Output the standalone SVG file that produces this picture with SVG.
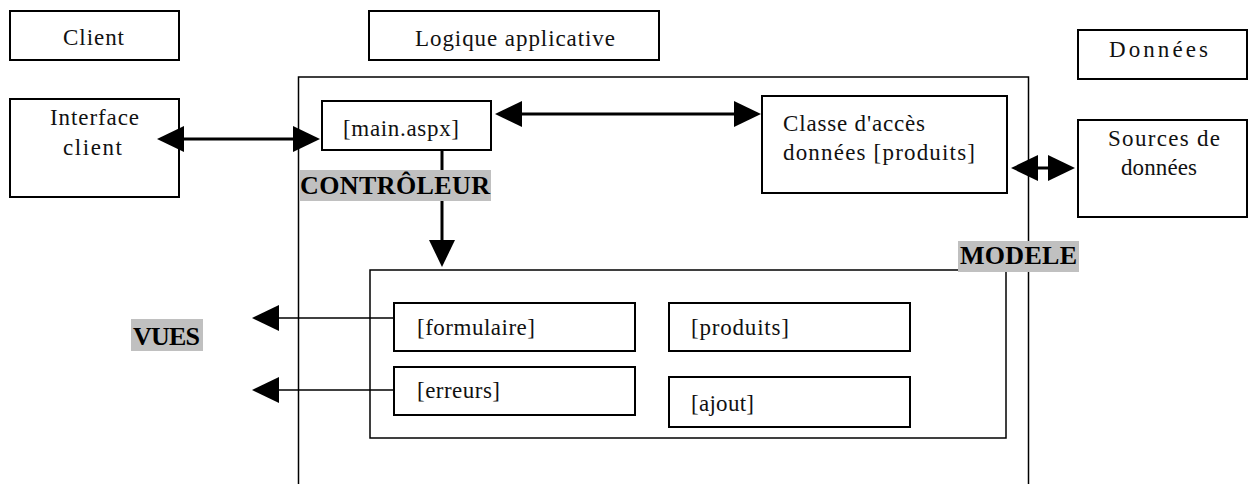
<svg xmlns="http://www.w3.org/2000/svg" width="1250" height="484" viewBox="0 0 1250 484">
<style>
.box{fill:#fff;stroke:#000;stroke-width:2}
.frame{fill:none;stroke:#000;stroke-width:1.5}
.t{font-family:"Liberation Serif",serif;font-size:23px;fill:#111}
.b{font-family:"Liberation Serif",serif;font-size:26px;font-weight:bold;fill:#000}
.bg{fill:#c0c0c0}
.c{fill:none;stroke:#000;stroke-width:3}
.c2{fill:none;stroke:#000;stroke-width:1.5}
</style>
<defs>
<marker id="ah" markerUnits="userSpaceOnUse" markerWidth="28" markerHeight="28" viewBox="0 0 28 28" refX="18" refY="13.5" orient="auto-start-reverse">
<path d="M0,0.5 L27,13.5 L0,26.5 z" fill="#000"/>
</marker>
</defs>
<g id="client-header"><rect class="box" x="10" y="11" width="169" height="49"/><text class="t" x="63" y="45" textLength="61">Client</text></g>
<g id="logique-header"><rect class="box" x="369" y="11" width="290" height="49"/><text class="t" x="415" y="46" textLength="200">Logique applicative</text></g>
<g id="donnees-header"><rect class="box" x="1078" y="30" width="169" height="49"/><text class="t" x="1109" y="57" textLength="99">Données</text></g>
<g id="logique-container"><rect class="frame" x="298.5" y="77" width="730" height="430"/></g>
<g id="interface-client"><rect class="box" x="10" y="99" width="169" height="98"/><text class="t" x="50" y="125" textLength="89">Interface</text><text class="t" x="63" y="155" textLength="59">client</text></g>
<g id="main-aspx"><rect class="box" x="322" y="101" width="169" height="49"/><text class="t" x="343" y="136" textLength="116">[main.aspx]</text></g>
<g id="classe-acces"><rect class="box" x="762" y="96" width="245" height="97"/><text class="t" x="783" y="131" textLength="142">Classe d'accès</text><text class="t" x="783" y="160" textLength="192">données [produits]</text></g>
<g id="sources"><rect class="box" x="1078" y="120" width="169" height="97"/><text class="t" x="1108" y="146" textLength="112">Sources de</text><text class="t" x="1121" y="175" textLength="76">données</text></g>
<g id="modele-box"><rect class="frame" x="370" y="270" width="636" height="168"/></g>
<g id="formulaire"><rect class="box" x="394" y="303" width="241" height="48"/><text class="t" x="417" y="335" textLength="118">[formulaire]</text></g>
<g id="erreurs"><rect class="box" x="394" y="367" width="241" height="48"/><text class="t" x="417" y="398" textLength="83">[erreurs]</text></g>
<g id="produits"><rect class="box" x="669" y="303" width="241" height="48"/><text class="t" x="691" y="335" textLength="98">[produits]</text></g>
<g id="ajout"><rect class="box" x="669" y="377" width="241" height="50"/><text class="t" x="691" y="411" textLength="63">[ajout]</text></g>
<g id="connectors">
<line class="c" x1="166" y1="139" x2="311" y2="139" marker-start="url(#ah)" marker-end="url(#ah)"/>
<line class="c" x1="504" y1="114" x2="752" y2="114" marker-start="url(#ah)" marker-end="url(#ah)"/>
<line class="c" x1="1020" y1="168" x2="1066" y2="168" marker-start="url(#ah)" marker-end="url(#ah)"/>
<line class="c" x1="442" y1="150" x2="442" y2="258" marker-end="url(#ah)"/>
<line class="c2" x1="394" y1="318" x2="261" y2="318" marker-end="url(#ah)"/>
<line class="c2" x1="394" y1="390" x2="261" y2="390" marker-end="url(#ah)"/>
</g>
<g id="label-controleur"><rect class="bg" x="299" y="170" width="192" height="31"/><text class="b" x="300" y="194" textLength="190">CONTRÔLEUR</text></g>
<g id="label-modele"><rect class="bg" x="958" y="241" width="121" height="31"/><text class="b" x="960" y="264" textLength="117">MODELE</text></g>
<g id="label-vues"><rect class="bg" x="131" y="319" width="72" height="32"/><text class="b" x="133" y="345" textLength="67">VUES</text></g>
</svg>
